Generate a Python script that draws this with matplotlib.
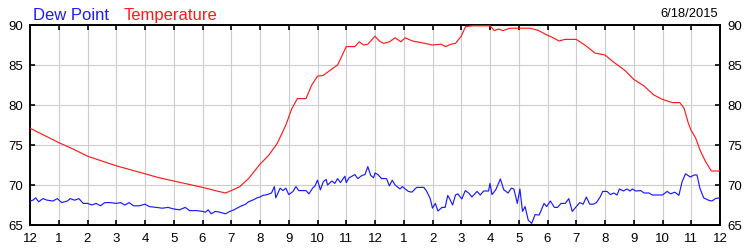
import matplotlib
matplotlib.use("Agg")
import matplotlib.pyplot as plt

# ---------------- data ----------------
temp_hours = [0, 0.5, 1, 1.5, 2, 2.5, 3, 3.5, 4, 4.5, 5, 5.5, 6, 6.5, 6.8, 7, 7.3, 7.6,
              8, 8.3, 8.6, 8.9, 9.1, 9.3, 9.6, 9.8, 10.0, 10.2, 10.5, 10.7, 11.0, 11.3,
              11.45, 11.6, 11.75, 12.0, 12.15, 12.3, 12.5, 12.7, 12.9, 13.05, 13.3, 13.6,
              14.0, 14.3, 14.45, 14.65, 14.8, 15.0, 15.15, 15.4, 15.8, 16.0, 16.15, 16.3,
              16.45, 16.7, 17.0, 17.4, 17.7, 17.95, 18.2, 18.4, 18.6, 19.0, 19.3, 19.65,
              20.0, 20.25, 20.7, 21.0, 21.35, 21.7, 22.0, 22.35, 22.6, 22.75, 22.9, 23.0,
              23.15, 23.3, 23.5, 23.7, 24.0]
temp_values = [77.1, 76.2, 75.3, 74.5, 73.6, 73.0, 72.4, 71.9, 71.4, 70.9, 70.5, 70.1, 69.7,
               69.25, 69.0, 69.3, 69.8, 70.8, 72.6, 73.7, 75.2, 77.5, 79.5, 80.8, 80.8, 82.5,
               83.6, 83.7, 84.5, 85.0, 87.3, 87.3, 87.9, 87.5, 87.6, 88.6, 88.0, 87.7, 87.9,
               88.4, 87.9, 88.4, 88.0, 87.8, 87.5, 87.6, 87.3, 87.6, 87.7, 88.6, 89.8, 89.9,
               89.9, 89.9, 89.3, 89.5, 89.3, 89.6, 89.6, 89.6, 89.3, 88.8, 88.4, 88.0, 88.2,
               88.2, 87.5, 86.5, 86.25, 85.5, 84.3, 83.2, 82.4, 81.25, 80.7, 80.3, 80.3, 79.6,
               77.7, 76.8, 75.9, 74.4, 72.9, 71.75, 71.75]

dew_hours = [0, 0.1, 0.2, 0.3, 0.45, 0.6, 0.8, 0.95, 1.1, 1.3, 1.4, 1.55, 1.7, 1.85, 2.0,
             2.15, 2.3, 2.45, 2.6, 2.8, 3.0, 3.15, 3.3, 3.45, 3.6, 3.8, 4.0, 4.15, 4.4, 4.6,
             4.8, 5.0, 5.2, 5.4, 5.55, 5.8, 6.0, 6.1, 6.2, 6.3, 6.45, 6.6, 6.8, 6.95, 7.1,
             7.3, 7.5, 7.6, 7.8, 7.9, 8.0, 8.1, 8.25, 8.4, 8.5, 8.55, 8.7, 8.8, 8.9, 9.0,
             9.15, 9.25, 9.35, 9.6, 9.7, 9.85, 9.9, 10.0, 10.1, 10.2, 10.3, 10.35, 10.5,
             10.6, 10.7, 10.8, 10.95, 11.0, 11.1, 11.3, 11.4, 11.55, 11.65, 11.75, 11.85,
             11.95, 12.0, 12.1, 12.23, 12.4, 12.5, 12.6, 12.7, 12.87, 12.95, 13.16, 13.28,
             13.45, 13.7, 13.8, 13.92, 14.0, 14.1, 14.19, 14.33, 14.44, 14.53, 14.6, 14.7,
             14.8, 14.88, 15.02, 15.14, 15.26, 15.37, 15.55, 15.66, 15.78, 15.95, 16.0,
             16.07, 16.2, 16.36, 16.48, 16.63, 16.74, 16.83, 16.95, 17.04, 17.13, 17.22,
             17.33, 17.45, 17.57, 17.71, 17.88, 17.97, 18.1, 18.24, 18.35, 18.47, 18.62,
             18.74, 18.86, 18.98, 19.12, 19.24, 19.35, 19.47, 19.59, 19.7, 19.83, 19.92,
             20.07, 20.19, 20.3, 20.42, 20.5, 20.64, 20.76, 20.87, 20.95, 21.07, 21.24,
             21.36, 21.53, 21.65, 21.82, 22.0, 22.16, 22.28, 22.43, 22.57, 22.68, 22.8,
             22.97, 23.1, 23.2, 23.3, 23.43, 23.6, 23.72, 23.84, 24.0]
dew_values = [68.0, 68.1, 68.4, 67.9, 68.3, 68.1, 68.0, 68.3, 67.8, 68.0, 68.3, 68.1, 68.3,
              67.7, 67.7, 67.5, 67.7, 67.4, 67.8, 67.8, 67.7, 67.8, 67.5, 67.8, 67.4, 67.4,
              67.6, 67.3, 67.2, 67.1, 67.2, 67.0, 66.9, 67.2, 66.8, 66.8, 66.7, 66.6, 66.9,
              66.4, 66.7, 66.6, 66.4, 66.7, 66.9, 67.3, 67.6, 67.9, 68.2, 68.4, 68.5, 68.7,
              68.8, 69.0, 69.8, 68.4, 69.6, 69.3, 69.6, 68.8, 69.2, 69.8, 69.3, 69.3, 68.9,
              69.7, 69.8, 70.6, 69.4, 70.4, 70.7, 70.0, 70.5, 70.2, 70.8, 70.3, 71.1, 70.3,
              70.9, 71.3, 70.8, 71.2, 71.3, 72.3, 71.2, 70.9, 71.5, 71.3, 70.8, 70.8, 69.9,
              70.6, 70.0, 69.5, 69.8, 69.2, 69.1, 69.7, 69.7, 69.2, 68.3, 67.1, 67.7, 66.75,
              67.2, 67.2, 68.7, 68.25, 67.5, 68.75, 68.9, 68.25, 69.3, 69.0, 68.5, 69.2,
              68.75, 69.25, 69.25, 70.2, 68.8, 69.4, 70.75, 69.4, 69.0, 69.6, 69.5, 67.7,
              69.5, 66.7, 67.3, 65.6, 65.2, 66.3, 66.25, 67.7, 67.3, 68.0, 67.2, 67.2, 67.7,
              67.7, 68.3, 66.7, 67.2, 67.8, 67.6, 68.5, 67.6, 67.6, 67.8, 68.5, 69.2, 69.2,
              68.8, 69.0, 68.75, 69.5, 69.25, 69.5, 69.25, 69.5, 69.25, 69.3, 69.0, 69.0,
              68.75, 68.75, 68.75, 69.2, 68.9, 69.1, 68.7, 70.4, 71.4, 71.0, 71.25, 71.25,
              69.6, 68.4, 68.1, 68.0, 68.3, 68.4]

x_tick_labels = ["12", "1", "2", "3", "4", "5", "6", "7", "8", "9", "10", "11",
                 "12", "1", "2", "3", "4", "5", "6", "7", "8", "9", "10", "11", "12"]
y_ticks = [65, 70, 75, 80, 85, 90]
date_label = "6/18/2015"

# ---------------- plot ----------------
plt.rcParams['font.family'] = ['Liberation Sans', 'DejaVu Sans']

fig = plt.figure(figsize=(7.5, 2.5), dpi=100)
ax = fig.add_axes([30 / 750, 25 / 250, 690 / 750, 200 / 250])

ax.plot(temp_hours, temp_values, color='#ff1a1a', lw=0.85, zorder=3)
ax.plot(dew_hours, dew_values, color='#1a1aff', lw=0.85, zorder=3)

ax.set_xlim(0, 24)
ax.set_ylim(65, 90)
ax.set_xticks(range(len(x_tick_labels)))
ax.set_xticklabels(x_tick_labels)
ax.set_yticks(y_ticks)

ax.grid(True, color='#cccccc', lw=0.8, zorder=0)
ax.set_axisbelow(True)
for s in ax.spines.values():
    s.set_linewidth(1.4)
    s.set_color('black')

ax.tick_params(axis='both', direction='in', length=3.5, width=1.2, labelsize=9.5,
               colors='black', top=True, right=True, labelright=True, pad=5)
ax.tick_params(axis='x', pad=6)

fig.text(33 / 750, 1 - 20 / 250, "Dew Point", color='#1a1aff', fontsize=12,
         ha='left', va='baseline')
fig.text(124 / 750, 1 - 20 / 250, "Temperature", color='#ff1a1a', fontsize=12,
         ha='left', va='baseline')
fig.text(718 / 750, 1 - 17 / 250, date_label, color='black', fontsize=9.3,
         ha='right', va='baseline')

fig.savefig("out.png", dpi=100)
